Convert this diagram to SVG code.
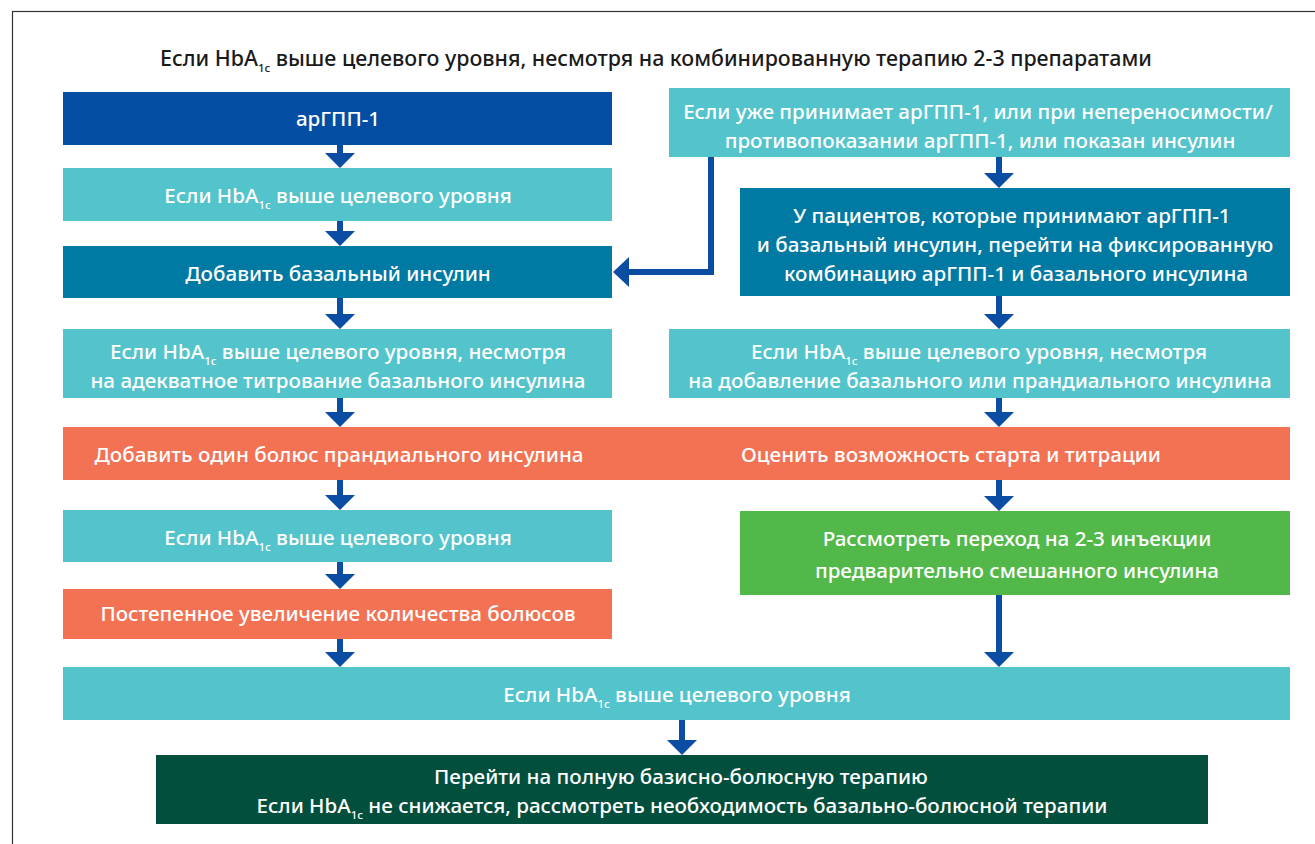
<svg xmlns="http://www.w3.org/2000/svg" width="1315" height="844" viewBox="0 0 1315 844">
<style>
.t{font-family:"Noto Sans","Open Sans","Liberation Sans",sans-serif;font-size:20.6px;font-weight:500;fill:#fff;text-anchor:middle}
.ttl{font-family:"Noto Sans","Open Sans","Liberation Sans",sans-serif;font-size:21.4px;font-weight:500;fill:#1a1a1a;text-anchor:middle}
.s{font-size:11.5px}
.cy{fill:#53C4CC}.db{fill:#034EA2}.tl{fill:#0079A3}.or{fill:#F37254}.gr{fill:#52B849}.dg{fill:#034F3E}
.ln{stroke:#0A4DA2;stroke-width:6;fill:none}
.ah{fill:#0A4DA2}
</style>
<rect x="12.5" y="11.5" width="1400" height="900" fill="none" stroke="#333" stroke-width="1.2"/>
<text class="ttl" x="656" y="66">Если HbA<tspan class="s" dy="6">1c</tspan><tspan dy="-6"> выше целевого уровня, несмотря на комбинированную терапию 2-3 препаратами</tspan></text>

<g id="n1"><rect class="db" x="63" y="92" width="549" height="53"/><text class="t" x="338" y="126">арГПП-1</text></g>
<g id="n2"><rect class="cy" x="63" y="168" width="549" height="53"/><text class="t" x="338" y="203">Если HbA<tspan class="s" dy="6">1c</tspan><tspan dy="-6"> выше целевого уровня</tspan></text></g>
<g id="n3"><rect class="tl" x="63" y="246" width="549" height="52"/><text class="t" x="338" y="281">Добавить базальный инсулин</text></g>
<g id="n4"><rect class="cy" x="63" y="329" width="549" height="69"/><text class="t" x="338" y="359">Если HbA<tspan class="s" dy="6">1c</tspan><tspan dy="-6"> выше целевого уровня, несмотря</tspan></text><text class="t" x="338" y="388">на адекватное титрование базального инсулина</text></g>
<g id="n5"><rect class="or" x="63" y="427" width="1227" height="53"/><text class="t" x="339" y="462">Добавить один болюс прандиального инсулина</text><text class="t" x="951" y="462">Оценить возможность старта и титрации</text></g>
<g id="n6"><rect class="cy" x="63" y="510" width="549" height="52"/><text class="t" x="338" y="545">Если HbA<tspan class="s" dy="6">1c</tspan><tspan dy="-6"> выше целевого уровня</tspan></text></g>
<g id="n7"><rect class="or" x="63" y="589" width="549" height="50"/><text class="t" x="338" y="621">Постепенное увеличение количества болюсов</text></g>
<g id="n8"><rect class="cy" x="63" y="667" width="1227" height="53"/><text class="t" x="677" y="702">Если HbA<tspan class="s" dy="6">1c</tspan><tspan dy="-6"> выше целевого уровня</tspan></text></g>
<g id="n9"><rect class="dg" x="156" y="755" width="1052" height="69"/><text class="t" x="681" y="784">Перейти на полную базисно-болюсную терапию</text><text class="t" x="682" y="813">Если HbA<tspan class="s" dy="6">1c</tspan><tspan dy="-6"> не снижается, рассмотреть необходимость базально-болюсной терапии</tspan></text></g>

<g id="r1"><rect class="cy" x="669" y="88" width="621" height="69"/><text class="t" x="978" y="119">Если уже принимает арГПП-1, или при непереносимости/</text><text class="t" x="980" y="148">противопоказании арГПП-1, или показан инсулин</text></g>
<g id="r2"><rect class="tl" x="740" y="188" width="550" height="108"/><text class="t" x="1012" y="223">У пациентов, которые принимают арГПП-1</text><text class="t" x="1015" y="252">и базальный инсулин, перейти на фиксированную</text><text class="t" x="1016" y="281">комбинацию арГПП-1 и базального инсулина</text></g>
<g id="r3"><rect class="cy" x="669" y="329" width="621" height="69"/><text class="t" x="979" y="359">Если HbA<tspan class="s" dy="6">1c</tspan><tspan dy="-6"> выше целевого уровня, несмотря</tspan></text><text class="t" x="980" y="388">на добавление базального или прандиального инсулина</text></g>
<g id="r4"><rect class="gr" x="740" y="511" width="550" height="84"/><text class="t" x="1017" y="546">Рассмотреть переход на 2-3 инъекции</text><text class="t" x="1017" y="578">предварительно смешанного инсулина</text></g>

<g id="connectors">
<path class="ln" d="M340 145V156M340 221V234M340 298V316M340 398V414M340 480V497M340 562V576M340 639V654"/>
<path class="ah" d="M325 153h30l-15 15zM325 231h30l-15 15zM325 314h30l-15 15zM325 412h30l-15 15zM325 495h30l-15 15zM325 574h30l-15 15zM325 652h30l-15 15z"/>
<path class="ln" d="M999 157V175M999 296V316M999 398V414M999 480V498M999 595V654"/>
<path class="ah" d="M984 173h30l-15 15zM984 314h30l-15 15zM984 412h30l-15 15zM984 496h30l-15 15zM984 652h30l-15 15z"/>
<path class="ln" d="M682 720V742"/>
<path class="ah" d="M667 740h30l-15 15z"/>
<path class="ln" d="M711 157V272H627"/>
<path class="ah" d="M613 272l16-15v30z"/>
</g>
</svg>
